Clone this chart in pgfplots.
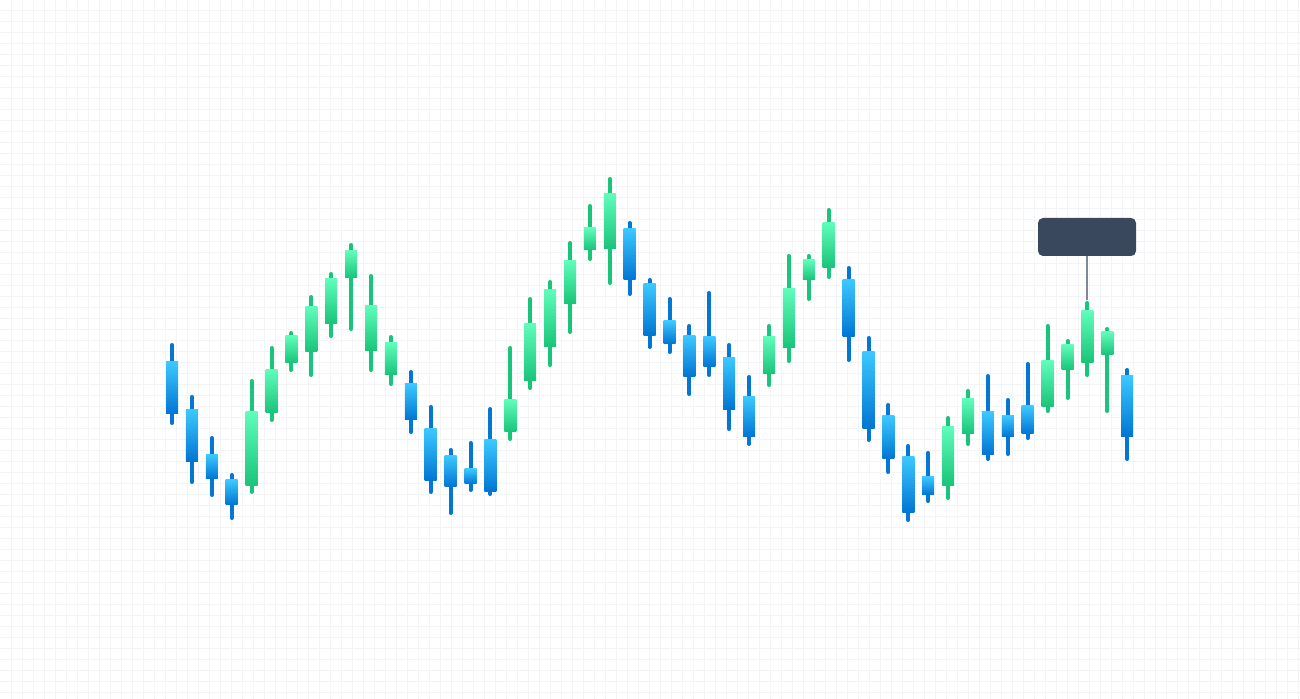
\documentclass[border=0pt]{standalone}
\usepackage{pgfplots}
\usepackage{pgfplotstable}
\pgfplotsset{compat=1.18}
\definecolor{gridc}{RGB}{243,244,246}
\definecolor{gT}{RGB}{96,252,186}
\definecolor{gB}{RGB}{24,196,120}
\definecolor{gW}{RGB}{26,196,122}
\definecolor{bT}{RGB}{60,200,255}
\definecolor{bB}{RGB}{0,116,210}
\definecolor{bW}{RGB}{6,118,212}
\definecolor{tipc}{RGB}{58,72,94}
\definecolor{tipl}{RGB}{125,136,152}

% falling candles (blue): i high open close low
\pgfplotstableread{
i h o c l
1 356 337 285 274
2 304 289 237 215
3 263 244 220 202
4 226 219 194 179
13 329 315 279 265
14 294 270 218 205
15 251 243 212 184
16 258 230 215 207
17 292 259 207 203
24 478 470 419 403
25 421 415 363 350
26 402 378 355 345
27 375 363 322 303
28 408 362 332 322
29 356 341 289 268
30 324 302 262 253
35 433 419 362 337
36 363 347 270 257
37 296 283 240 225
38 255 242 186 177
39 248 222 204 196
42 325 287 244 238
43 301 283 262 243
44 337 293 265 259
49 331 323 262 238
}\bluetab

% rising candles (green): i high open close low
\pgfplotstableread{
i h o c l
5 320 213 287 205
6 353 286 329 277
7 368 336 363 327
8 404 347 392 322
9 427 375 420 361
10 456 421 448 368
11 425 348 393 327
12 364 324 356 313
18 353 267 299 258
19 402 318 375 309
20 419 352 409 332
21 458 395 438 365
22 495 449 471 438
23 522 450 505 414
31 375 325 362 312
32 445 351 410 336
33 445 419 439 398
34 491 431 476 420
40 283 213 272 199
41 310 265 300 253
45 375 292 338 286
46 360 329 354 299
47 398 336 388 322
48 372 344 367 286
}\greentab

\begin{document}
\begin{tikzpicture}
\begin{axis}[
  scale only axis, width=650pt, height=349.5pt,
  xmin=0, xmax=1300, ymin=0, ymax=699,
  axis line style={draw=none},
  xtick={11,22,...,1298}, ytick={6,17,...,688},
  xticklabels={}, yticklabels={},
  major tick length=0pt,
  grid=major, grid style={draw=gridc, line width=0.5pt},
  clip=false,
  every axis plot/.append style={only marks, mark=*, mark size=0pt, mark options={draw=none, fill=none}},
]
% wicks
\addplot[
  error bars/.cd, y dir=plus, y explicit, error mark=none,
  error bar style={line width=2pt, line cap=round, draw=bW, shorten <=1pt, shorten >=1pt}]
  table[x expr={172+(\thisrow{i}-1)*19.9}, y=l, y error expr={\thisrow{h}-\thisrow{l}}] {\bluetab};
\addplot[
  error bars/.cd, y dir=plus, y explicit, error mark=none,
  error bar style={line width=2pt, line cap=round, draw=gW, shorten <=1pt, shorten >=1pt}]
  table[x expr={172+(\thisrow{i}-1)*19.9}, y=l, y error expr={\thisrow{h}-\thisrow{l}}] {\greentab};
% bodies
\addplot[
  visualization depends on={\thisrow{o}-\thisrow{c} \as \hh},
  nodes near coords={},
  every node near coord/.style={anchor=south, inner sep=0pt, outer sep=0pt,
    minimum width=6pt, minimum height={0.5pt*\hh}, shade, top color=bT, bottom color=bB}]
  table[x expr={172+(\thisrow{i}-1)*19.9}, y=c] {\bluetab};
\addplot[
  visualization depends on={\thisrow{c}-\thisrow{o} \as \hh},
  nodes near coords={},
  every node near coord/.style={anchor=south, inner sep=0pt, outer sep=0pt,
    minimum width=6pt, minimum height={0.5pt*\hh}, shade, top color=gT, bottom color=gB}]
  table[x expr={172+(\thisrow{i}-1)*19.9}, y=o] {\greentab};
% tooltip
\draw[tipl, line width=0.7pt] (axis cs:1087,443) -- (axis cs:1087,399);
\fill[tipc, rounded corners=2.5pt] (axis cs:1038,481) rectangle (axis cs:1136,443);
\end{axis}
\pgfresetboundingbox
\path (0,0) rectangle (650pt,349.5pt);
\end{tikzpicture}
\end{document}
